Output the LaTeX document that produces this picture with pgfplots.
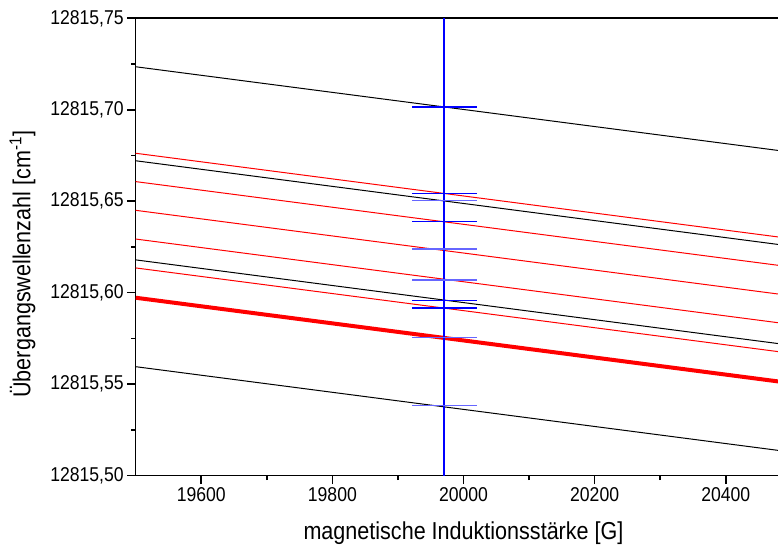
\documentclass[border=0pt]{standalone}
\usepackage{pgfplots}
\pgfplotsset{compat=1.18}
\usepackage{fontspec}
\setmainfont[FakeStretch=0.88]{Liberation Sans}
% y values are given as (wave number - 12815) cm^-1
\begin{document}
\begin{tikzpicture}
\useasboundingbox (-135.7bp,-71.5bp) rectangle (642.3bp,475.5bp);
\begin{axis}[
  at={(0,0)}, anchor=south west,
  scale only axis, width=655.6bp, height=457.2bp,
  xmin=19500, xmax=20500, ymin=0.5, ymax=0.75,
  xtick={19600,19800,20000,20200,20400},
  scaled x ticks=false,
  minor x tick num=1,
  ytick={0.5,0.55,0.6,0.65,0.7,0.75},
  yticklabels={12815{,}50,12815{,}55,12815{,}60,12815{,}65,12815{,}70,12815{,}75},
  minor y tick num=1,
  xtick pos=left, ytick pos=left,
  tick align=outside,
  major tick length=8.5bp, minor tick length=4.5bp,
  every tick/.style={black, line width=1.6bp},
  axis line style={line width=1.6bp},
  tick label style={font=\fontsize{20bp}{24bp}\selectfont},
  label style={font=\fontsize{24.5bp}{29bp}\selectfont},
  /pgf/number format/1000 sep={},
  /pgf/number format/assume math mode=true,
  xlabel={magnetische Induktionsstärke [G]},
  ylabel={Übergangswellenzahl [cm\textsuperscript{-1}]},
  xlabel style={at={(axis description cs:0.5,-0.141)}, anchor=base},
  ylabel style={at={(axis description cs:-0.1605,0.462)}, anchor=base},
  unbounded coords=jump,
  clip=true,
]
% black lines
\addplot[black, line width=1bp] coordinates {(19500,0.7235) (20500,0.6768)};
\addplot[black, line width=1bp] coordinates {(19500,0.6721) (20500,0.6254)};
\addplot[black, line width=1bp] coordinates {(19500,0.6179) (20500,0.5712)};
\addplot[black, line width=1bp] coordinates {(19500,0.5595) (20500,0.5128)};
% red lines
\addplot[red, line width=1bp] coordinates {(19500,0.6762) (20500,0.6295)};
\addplot[red, line width=1bp] coordinates {(19500,0.6607) (20500,0.6140)};
\addplot[red, line width=1bp] coordinates {(19500,0.6450) (20500,0.5983)};
\addplot[red, line width=1bp] coordinates {(19500,0.6293) (20500,0.5826)};
\addplot[red, line width=1bp] coordinates {(19500,0.6135) (20500,0.5668)};
\addplot[red, line width=4bp] coordinates {(19500,0.5972) (20500,0.5505)};
% vertical blue line
\addplot[blue, line width=2bp] coordinates {(19971,0.5) (19971,0.75)};
% horizontal blue bars (19971 +- 49)
\addplot[blue, line width=1.3bp] coordinates {
  (19922,0.7015) (20020,0.7015) (nan,nan)
  (19922,0.6543) (20020,0.6543) (nan,nan)
  (19922,0.6390) (20020,0.6390) (nan,nan)
  (19922,0.5958) (20020,0.5958) (nan,nan)
  (19922,0.5916) (20020,0.5916)
};
\addplot[blue!60!white, line width=1.3bp] coordinates {
  (19922,0.6503) (20020,0.6503) (nan,nan)
  (19922,0.6239) (20020,0.6239) (nan,nan)
  (19922,0.6069) (20020,0.6069) (nan,nan)
  (19922,0.5754) (20020,0.5754) (nan,nan)
  (19922,0.5382) (20020,0.5382)
};
\end{axis}
\end{tikzpicture}
\end{document}
